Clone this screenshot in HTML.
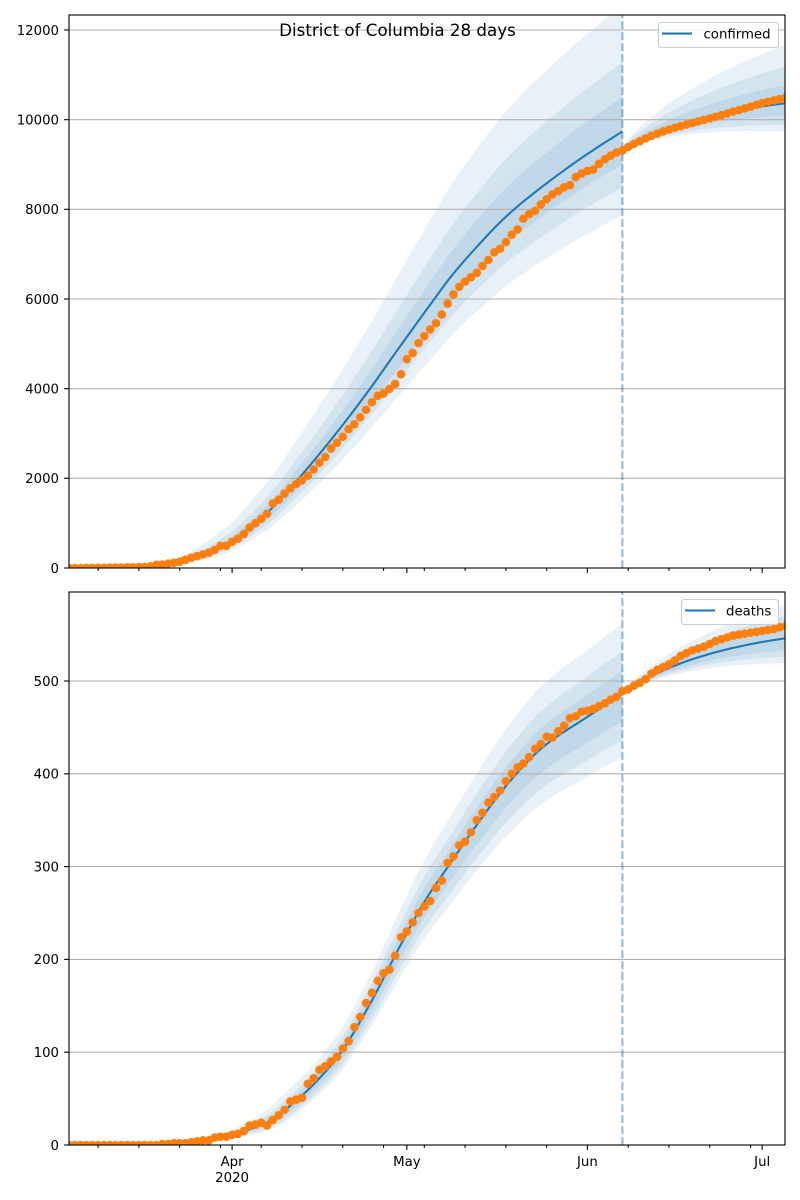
<!DOCTYPE html>
<html><head><meta charset="utf-8">
<style>
html,body{margin:0;padding:0;background:#fff;}
svg{display:block;}
text{font-family:"DejaVu Sans","Liberation Sans",sans-serif;fill:#000;}
</style></head><body>
<svg id="s" width="800" height="1200" viewBox="0 0 800 1200" xmlns="http://www.w3.org/2000/svg">
<defs>
<clipPath id="c1"><rect x="69" y="15" width="716" height="553"/></clipPath>
<clipPath id="c2"><rect x="69" y="592" width="716" height="553"/></clipPath>
</defs>
<rect width="800" height="1200" fill="#fff"/>

<!-- TOP PANEL -->
<g id="b1" clip-path="url(#c1)"></g>
<g stroke="#b0b0b0" stroke-width="1.1" clip-path="url(#c1)">
<line x1="69" x2="785" y1="568" y2="568"/>
<line x1="69" x2="785" y1="478.3" y2="478.3"/>
<line x1="69" x2="785" y1="388.7" y2="388.7"/>
<line x1="69" x2="785" y1="299.0" y2="299.0"/>
<line x1="69" x2="785" y1="209.3" y2="209.3"/>
<line x1="69" x2="785" y1="119.7" y2="119.7"/>
<line x1="69" x2="785" y1="30.0" y2="30.0"/>
</g>
<g id="l1" clip-path="url(#c1)"></g>

<!-- BOTTOM PANEL -->
<g id="b2" clip-path="url(#c2)"></g>
<g stroke="#b0b0b0" stroke-width="1.1" clip-path="url(#c2)">
<line x1="69" x2="785" y1="1145" y2="1145"/>
<line x1="69" x2="785" y1="1052.2" y2="1052.2"/>
<line x1="69" x2="785" y1="959.4" y2="959.4"/>
<line x1="69" x2="785" y1="866.6" y2="866.6"/>
<line x1="69" x2="785" y1="773.8" y2="773.8"/>
<line x1="69" x2="785" y1="681.0" y2="681.0"/>
</g>
<g id="l2" clip-path="url(#c2)"></g>

<!-- spines -->
<rect x="69" y="15" width="716" height="553" fill="none" stroke="#000" stroke-width="1.1"/>
<rect x="69" y="592" width="716" height="553" fill="none" stroke="#000" stroke-width="1.1"/>

<!-- y ticks -->
<g stroke="#000" stroke-width="1.1">
<line x1="64.1" x2="69" y1="568" y2="568"/>
<line x1="64.1" x2="69" y1="478.3" y2="478.3"/>
<line x1="64.1" x2="69" y1="388.7" y2="388.7"/>
<line x1="64.1" x2="69" y1="299.0" y2="299.0"/>
<line x1="64.1" x2="69" y1="209.3" y2="209.3"/>
<line x1="64.1" x2="69" y1="119.7" y2="119.7"/>
<line x1="64.1" x2="69" y1="30.0" y2="30.0"/>
<line x1="64.1" x2="69" y1="1145" y2="1145"/>
<line x1="64.1" x2="69" y1="1052.2" y2="1052.2"/>
<line x1="64.1" x2="69" y1="959.4" y2="959.4"/>
<line x1="64.1" x2="69" y1="866.6" y2="866.6"/>
<line x1="64.1" x2="69" y1="773.8" y2="773.8"/>
<line x1="64.1" x2="69" y1="681.0" y2="681.0"/>
</g>
<g font-size="13.3" text-anchor="end">
<text x="59" y="572.8">0</text>
<text x="59" y="483.1">2000</text>
<text x="59" y="393.5">4000</text>
<text x="59" y="303.8">6000</text>
<text x="59" y="214.1">8000</text>
<text x="59" y="124.5">10000</text>
<text x="59" y="34.8">12000</text>
<text x="59" y="1149.8">0</text>
<text x="59" y="1057.0">100</text>
<text x="59" y="964.2">200</text>
<text x="59" y="871.4">300</text>
<text x="59" y="778.6">400</text>
<text x="59" y="685.8">500</text>
</g>

<g id="xt" stroke="#000" stroke-width="1.1"></g>
<g font-size="13.3" text-anchor="middle">
<text x="232.1" y="1166.2">Apr</text>
<text x="232.1" y="1182.0">2020</text>
<text x="406.9" y="1166.2">May</text>
<text x="587.4" y="1166.2">Jun</text>
<text x="762.2" y="1166.2">Jul</text>
</g>

<!-- title -->
<text x="397.5" y="36" font-size="16.7" text-anchor="middle">District of Columbia 28 days</text>

<!-- legends -->
<rect x="658.5" y="22.5" width="120" height="25" rx="2.8" fill="#fff" fill-opacity="0.8" stroke="#cccccc" stroke-width="1.1"/>
<line x1="662" x2="692" y1="33.6" y2="33.6" stroke="#1f77b4" stroke-width="2.08"/>
<text x="703.5" y="38.4" font-size="13.3">confirmed</text>

<rect x="681.5" y="599.5" width="97" height="25" rx="2.8" fill="#fff" fill-opacity="0.8" stroke="#cccccc" stroke-width="1.1"/>
<line x1="685" x2="715" y1="610.5" y2="610.5" stroke="#1f77b4" stroke-width="2.08"/>
<text x="726" y="615.6" font-size="13.3">deaths</text>
</svg>

<script>
(function(){
var NS="http://www.w3.org/2000/svg";
function el(tag,a,p){var e=document.createElementNS(NS,tag);for(var k in a)e.setAttribute(k,a[k]);p.appendChild(e);return e;}
function xt(t){return 69+5.825*t;}
function pchip(xs,ys){
  var n=xs.length,h=[],d=[],m=new Array(n),i;
  for(i=0;i<n-1;i++){h[i]=xs[i+1]-xs[i];d[i]=(ys[i+1]-ys[i])/h[i];}
  m[0]=d[0];m[n-1]=d[n-2];
  for(i=1;i<n-1;i++){
    if(d[i-1]*d[i]<=0)m[i]=0;
    else{var w1=2*h[i]+h[i-1],w2=h[i]+2*h[i-1];m[i]=(w1+w2)/(w1/d[i-1]+w2/d[i]);}
  }
  return function(x){
    var j=0;while(j<n-2&&x>xs[j+1])j++;
    var t=(x-xs[j])/h[j],t2=t*t,t3=t2*t;
    return (2*t3-3*t2+1)*ys[j]+(t3-2*t2+t)*h[j]*m[j]+(-2*t3+3*t2)*ys[j+1]+(t3-t2)*h[j]*m[j+1];
  };
}
function G(f){return (1-Math.exp(-1.5*f))/(1-Math.exp(-1.5));}
function band(ts,lo,hi,Y){
  var d='',i;
  for(i=0;i<ts.length;i++)d+=(i?' L':'M')+xt(ts[i]).toFixed(2)+','+Y(hi[i]).toFixed(2);
  for(i=ts.length-1;i>=0;i--)d+=' L'+xt(ts[i]).toFixed(2)+','+Y(lo[i]).toFixed(2);
  return d+' Z';
}
function draw(c){
  var bg=document.getElementById(c.bid),lg=document.getElementById(c.lid),Y=c.y;
  var fit=pchip(c.mt,c.mv);
  var T1=[],T2=[],t,k;
  for(t=0;t<=95;t++)T1.push(t);
  for(t=95;t<=123;t++)T2.push(t);
  for(k=0;k<3;k++){
    var hi=[],lo=[];
    T1.forEach(function(t){var m=Math.max(fit(t),0);var s=Math.min(c.smax,1+c.sa*Math.exp(-(t-40)/c.sd));hi.push(m*Math.exp(c.up[k]*s));lo.push(m*Math.exp(-c.dn[k]*s));});
    el('path',{d:band(T1,lo,hi,Y),fill:'#1f77b4','fill-opacity':0.1},bg);
    var hi2=[],lo2=[];
    T2.forEach(function(t){var f=(t-95)/28;var m=c.f0+c.fd*G(f);hi2.push(m+c.fu[k]*Math.pow(f,0.7));lo2.push(m-c.fl[k]*Math.pow(f,0.9));});
    el('path',{d:band(T2,lo2,hi2,Y),fill:'#1f77b4','fill-opacity':0.1},bg);
  }
  var d='';
  for(t=0;t<=95.001;t+=0.5)d+=(d?' L':'M')+xt(t).toFixed(2)+','+Y(Math.max(fit(t),0)).toFixed(2);
  el('path',{d:d,fill:'none',stroke:'#1f77b4','stroke-width':2.08,'stroke-linejoin':'round'},lg);
  d='';
  for(t=95;t<=123.001;t+=0.5){var f=(t-95)/28;d+=(d?' L':'M')+xt(t).toFixed(2)+','+Y(c.f0+c.fd*G(f)).toFixed(2);}
  el('path',{d:d,fill:'none',stroke:'#1f77b4','stroke-width':2.08,'stroke-linejoin':'round'},lg);
  el('line',{x1:xt(95),x2:xt(95),y1:c.yb,y2:c.yt,stroke:'#1f77b4','stroke-opacity':0.5,'stroke-width':2.08,'stroke-dasharray':'7.7,3.3'},lg);
  c.data.forEach(function(v,t){el('circle',{cx:xt(t).toFixed(2),cy:Y(v).toFixed(2),r:4.3,fill:'#ff7f0e'},lg);});
}
var conf=[0,0,0,1,1,4,4,10,10,10,16,17,22,22,39,71,77,98,116,137,183,231,267,304,342,401,495,495,586,653,757,902,998,1097,1211,1440,1523,1660,1778,1875,1955,2058,2197,2350,2476,2666,2793,2927,3098,3206,3361,3528,3699,3841,3892,3994,4106,4323,4658,4797,5016,5170,5322,5461,5654,5899,6102,6272,6389,6485,6584,6736,6871,7042,7123,7270,7434,7551,7788,7893,7966,8110,8225,8334,8406,8492,8538,8717,8801,8857,8886,9016,9120,9199,9269,9310,
9390,9460,9520,9580,9640,9690,9740,9780,9820,9855,9890,9925,9960,9995,10030,10065,10100,10140,10180,10215,10250,10290,10330,10370,10400,10430,10460,10490];
var deaths=[0,0,0,0,0,0,0,0,0,0,0,0,0,0,0,0,1,1,2,2,2,3,4,5,5,8,9,9,11,12,15,21,22,24,21,27,32,38,47,49,51,66,72,81,85,90,95,104,112,127,138,153,164,177,185,189,204,224,230,240,250,257,263,277,285,304,311,323,327,337,350,358,369,375,382,392,400,407,411,418,427,432,440,439,446,452,460,462,467,468,470,473,476,480,483,489,491,495,498,502,508,512,515,518,522,527,530,533,535,537,540,543,545,547,549,550,551,552,553,554,555,556,558,559];

draw({bid:'b1',lid:'l1',y:function(v){return 568-v*0.044833;},yb:568,yt:15,
  mt:[0,8,14,18,22,25,28,31,34.5,39.7,45.4,51.1,56.8,62.6,65.4,70.9,74,76.6,79.6,82.6,88.3,95],
  mv:[3,15,45,110,240,400,600,900,1294,2037,2929,3896,4937,5978,6470,7290,7710,8020,8340,8640,9174,9740],
  up:[0.25,0.145,0.075],dn:[0.21,0.135,0.078],sa:0.5,sd:15,smax:2.5,
  f0:9370,fd:995,fu:[1300,817,408],fl:[633,484,283],data:conf});
draw({bid:'b2',lid:'l2',y:function(v){return 1145-v*0.928;},yb:1145,yt:592,
  mt:[0,12,16,20,24,28,31,34.2,39.4,43,46.5,51.5,56.8,61,65.4,70,75.7,81.4,88.9,94,95],
  mv:[0,0.3,1,2.5,5.5,10.5,17,25,50,72,98,150,214,262,303,345,392,429,461,482,486],
  up:[0.145,0.09,0.05],dn:[0.15,0.107,0.062],sa:1.2,sd:8,smax:3,
  f0:488,fd:58,fu:[36,24,12],fl:[27,20,13],data:deaths});

var g=document.getElementById('xt');
[28,58,89,119].forEach(function(t){[568,1145].forEach(function(y){el('line',{x1:xt(t),x2:xt(t),y1:y,y2:y+4.9},g);});});
[5,12,19,26,33,40,47,54,61,68,75,82,96,103,110,117].forEach(function(t){[568,1145].forEach(function(y){el('line',{x1:xt(t),x2:xt(t),y1:y,y2:y+2.8},g);});});
})();
</script>
</body></html>
